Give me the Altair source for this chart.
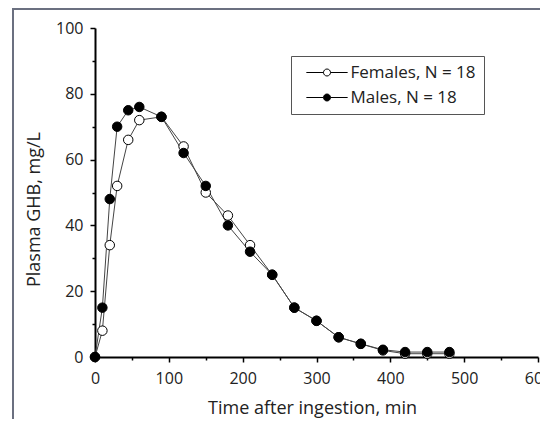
import altair as alt
import pandas as pd

time_min = [0, 10, 20, 30, 45, 60, 90, 120, 150, 180, 210, 240, 270, 300, 330, 360, 390, 420, 450, 480]
females = [0, 8, 34, 52, 66, 72, 73, 64, 50, 43, 34, 25, 15, 11, 6, 4, 2, 1, 1, 1]
males = [0, 15, 48, 70, 75, 76, 73, 62, 52, 40, 32, 25, 15, 11, 6, 4, 2.2, 1.5, 1.5, 1.5]
series_names = ["Females, N = 18", "Males, N = 18"]
series_fill = ["white", "black"]
x_major = [0, 100, 200, 300, 400, 500, 600]
x_minor = [50, 150, 250, 350, 450, 550]
y_major = [0, 20, 40, 60, 80, 100]
y_minor = [10, 30, 50, 70, 90]

rows = []
for name, vals in zip(series_names, [females, males]):
    for t, v in zip(time_min, vals):
        rows.append({"time": t, "ghb": v, "series": name})
df = pd.DataFrame(rows)

FONT = "Open Sans"
legend_path = "M-5.9,0H-1M1,0H5.9M1,0A1,1,0,1,1,-1,0A1,1,0,1,1,1,0Z"

xscale = alt.Scale(domain=[0, 600], nice=False, zero=True)
yscale = alt.Scale(domain=[0, 100], nice=False, zero=True)

x_axis = alt.Axis(values=x_major, title="Time after ingestion, min", format="d", orient="bottom",
                  tickSize=5, labelPadding=8, labelFlush=False, labelOverlap=False,
                  titleX=217, titleY=56, titleBaseline="alphabetic", titleAlign="center")
y_axis = alt.Axis(values=y_major, title="Plasma GHB, mg/L", format="d", orient="left",
                  tickSize=5, labelPadding=7, labelFlush=False, labelOverlap=False,
                  titleX=-61, titleY=181, titleBaseline="middle", titleAlign="center",
                  titleAngle=-90)

legend = alt.Legend(orient="none", legendX=196, legendY=28, title=None,
                    strokeColor="#555", padding=8, symbolSize=49,
                    symbolOffset=19.5, labelOffset=15, rowPadding=7,
                    symbolStrokeColor="black", symbolStrokeWidth=1,
                    labelFont=FONT, labelFontSize=17, labelColor="#222")

fill_enc = alt.Fill("series:N", scale=alt.Scale(domain=series_names, range=series_fill), legend=legend)

base = alt.Chart(df)

lines = base.mark_line(color="#444", strokeWidth=1).encode(
    x=alt.X("time:Q", scale=xscale, axis=x_axis),
    y=alt.Y("ghb:Q", scale=yscale, axis=y_axis),
    detail="series:N",
)

points = base.mark_point(filled=True, shape="circle", size=90, stroke="black",
                         strokeWidth=1, opacity=1).encode(
    x=alt.X("time:Q", scale=xscale, axis=None),
    y=alt.Y("ghb:Q", scale=yscale, axis=None),
    fill=fill_enc,
)

legend_layer = base.mark_point(filled=True, size=49, opacity=0).encode(
    x=alt.X("time:Q", scale=xscale, axis=None),
    y=alt.Y("ghb:Q", scale=yscale, axis=None),
    fill=fill_enc,
    shape=alt.Shape("series:N", scale=alt.Scale(domain=series_names, range=[legend_path, legend_path]),
                    legend=legend),
)

minor = base.mark_point(opacity=0).encode(
    x=alt.X("time:Q", scale=xscale,
            axis=alt.Axis(values=x_minor, labels=False, domain=False, title=None,
                          tickSize=3, orient="bottom")),
    y=alt.Y("ghb:Q", scale=yscale,
            axis=alt.Axis(values=y_minor, labels=False, domain=False, title=None,
                          tickSize=3, orient="left")),
)

frame_data = alt.Data(values=[{"k": 1}])
frame_left = alt.Chart(frame_data).mark_rule(color="#6b7080", strokeWidth=2).encode(
    x=alt.value(-82), y=alt.value(-20), y2=alt.value(400))
frame_top = alt.Chart(frame_data).mark_rule(color="#6b7080", strokeWidth=2).encode(
    x=alt.value(-83), x2=alt.value(470), y=alt.value(-19))

chart = alt.layer(frame_left, frame_top, lines, points, legend_layer, minor).resolve_axis(
    x="independent", y="independent"
).properties(
    width=443, height=329, autosize="none",
    padding={"left": 87, "top": 20, "right": 2, "bottom": 62},
).configure_axis(
    grid=False, domainColor="black", domainWidth=2, tickColor="black", tickWidth=1.5,
    labelFont=FONT, labelFontSize=16, labelColor="#222",
    titleFont=FONT, titleFontSize=18, titleColor="#222", titleFontWeight="normal",
).configure_view(stroke=None)

chart.save("out.html", embed_options={"renderer": "svg", "actions": False})
